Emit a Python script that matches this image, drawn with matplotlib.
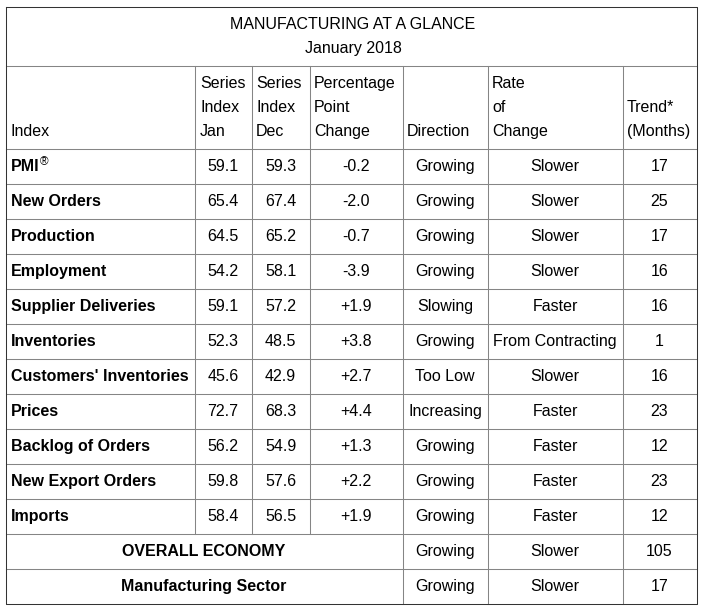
import matplotlib
matplotlib.use("Agg")
import matplotlib.pyplot as plt

title = "MANUFACTURING AT A GLANCE"
subtitle = "January 2018"
indexes = ["PMI", "New Orders", "Production", "Employment", "Supplier Deliveries",
           "Inventories", "Customers' Inventories", "Prices", "Backlog of Orders",
           "New Export Orders", "Imports"]
series_jan = [59.1, 65.4, 64.5, 54.2, 59.1, 52.3, 45.6, 72.7, 56.2, 59.8, 58.4]
series_dec = [59.3, 67.4, 65.2, 58.1, 57.2, 48.5, 42.9, 68.3, 54.9, 57.6, 56.5]
change = ["-0.2", "-2.0", "-0.7", "-3.9", "+1.9", "+3.8", "+2.7", "+4.4", "+1.3", "+2.2", "+1.9"]
direction = ["Growing", "Growing", "Growing", "Growing", "Slowing", "Growing", "Too Low",
             "Increasing", "Growing", "Growing", "Growing"]
rate = ["Slower", "Slower", "Slower", "Slower", "Faster", "From Contracting", "Slower",
        "Faster", "Faster", "Faster", "Faster"]
trend = [17, 25, 17, 16, 16, 1, 16, 23, 12, 23, 12]
summary_labels = ["OVERALL ECONOMY", "Manufacturing Sector"]
summary_direction = ["Growing", "Growing"]
summary_rate = ["Slower", "Slower"]
summary_trend = [105, 17]

W, H = 705, 609
fig = plt.figure(figsize=(W / 100, H / 100), dpi=100)
ax = fig.add_axes([0, 0, 1, 1])
ax.set_xlim(0, W)
ax.set_ylim(H, 0)
ax.axis("off")

FONT = "Liberation Sans"
FS = 11.5

# geometry
L, R = 5.5, 696.5
T, B = 6.5, 603.5
cols = [L, 194.5, 251.5, 309.5, 402.5, 487.5, 622.5, R]
title_bot = 65.5
head_bot = 148.5
row_h = 35.0
nrows = len(indexes) + len(summary_labels)
row_tops = [head_bot + i * row_h for i in range(nrows + 1)]

grid = "#858585"
LW = 0.75
ax.plot([L, R], [title_bot, title_bot], color=grid, lw=LW)
for y in row_tops[:-1]:
    ax.plot([L, R], [y, y], color=grid, lw=LW)
for x in cols[1:-1]:
    if x < 402:
        ax.plot([x, x], [title_bot, row_tops[len(indexes)]], color=grid, lw=LW)
    else:
        ax.plot([x, x], [title_bot, B], color=grid, lw=LW)
ax.plot([L, R, R, L, L], [T, T, B, B, T], color="#333333", lw=LW)

def txt(x, y, s, ha="center", bold=False, size=FS, off=5.0):
    # y is the visual centre of the line; place on the baseline
    return ax.text(x, y + off, s, ha=ha, va="baseline", fontsize=size, family=FONT,
                   fontweight="bold" if bold else "normal", color="black")

# title
txt(W / 2 + 0.5, 24, title)
txt(W / 2 + 0.5, 48, subtitle)

# header
l1, l2, l3 = 83, 107, 131
txt(11, l3, "Index", ha="left")
txt(200, l1, "Series", ha="left"); txt(200, l2, "Index", ha="left"); txt(200, l3, "Jan", ha="left")
txt(256, l1, "Series", ha="left"); txt(256, l2, "Index", ha="left"); txt(256, l3, "Dec", ha="left")
txt(314, l1, "Percentage", ha="left"); txt(314, l2, "Point", ha="left"); txt(314, l3, "Change", ha="left")
txt(407, l3, "Direction", ha="left")
txt(492, l1, "Rate", ha="left"); txt(492, l2, "of", ha="left"); txt(492, l3, "Change", ha="left")
txt(627, l2, "Trend*", ha="left"); txt(627, l3, "(Months)", ha="left")

centers = [(cols[i] + cols[i + 1]) / 2 for i in range(len(cols) - 1)]

fig.canvas.draw()
renderer = fig.canvas.get_renderer()
inv = ax.transData.inverted()

for i, name in enumerate(indexes):
    yc = row_tops[i] + row_h / 2
    t = txt(11, yc, name, ha="left", bold=True)
    if i == 0:
        bb = t.get_window_extent(renderer=renderer)
        x1 = inv.transform((bb.x1, bb.y1))[0]
        txt(x1 + 0.5, yc - 6, "®", ha="left", size=8.5)
    txt(centers[1], yc, f"{series_jan[i]:.1f}")
    txt(centers[2], yc, f"{series_dec[i]:.1f}")
    txt(centers[3], yc, change[i])
    txt(centers[4], yc, direction[i])
    txt(centers[5], yc, rate[i])
    txt(centers[6], yc, str(trend[i]))

for j, name in enumerate(summary_labels):
    i = len(indexes) + j
    yc = row_tops[i] + row_h / 2
    txt((L + cols[4]) / 2, yc, name, bold=True)
    txt(centers[4], yc, summary_direction[j])
    txt(centers[5], yc, summary_rate[j])
    txt(centers[6], yc, str(summary_trend[j]))

fig.savefig("out.png", dpi=100, facecolor="white")
